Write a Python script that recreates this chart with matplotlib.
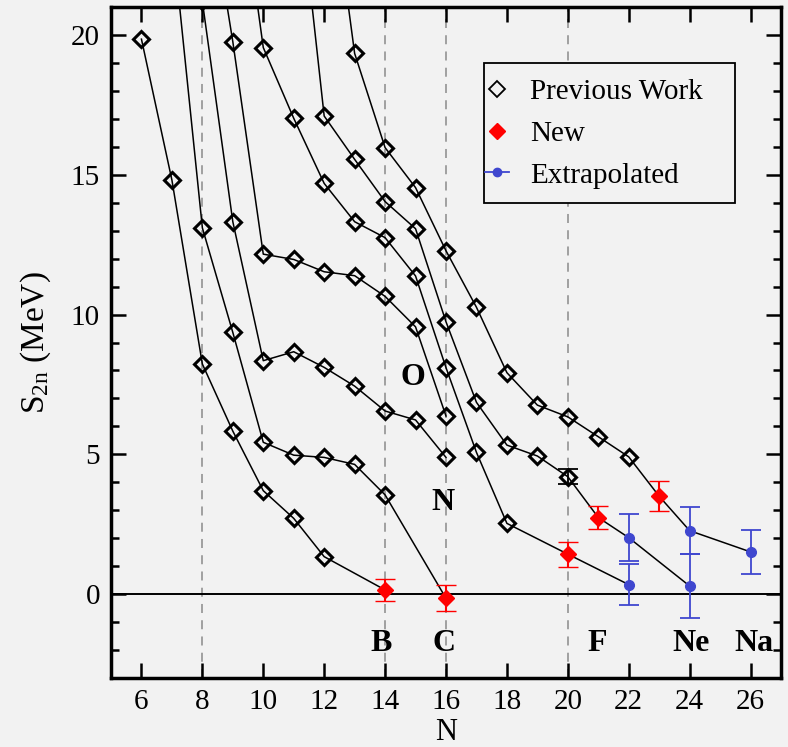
import matplotlib
matplotlib.use('Agg')
import matplotlib.pyplot as plt
from matplotlib.lines import Line2D
from matplotlib.patches import Rectangle
from matplotlib.ticker import MultipleLocator, FixedLocator

plt.rcParams['font.family'] = ['Liberation Serif', 'DejaVu Serif']
plt.rcParams['mathtext.fontset'] = 'custom'
plt.rcParams['mathtext.rm'] = 'Liberation Serif'
plt.rcParams['mathtext.it'] = 'Liberation Serif:italic'

# ---------------- data (N, S2n in MeV) ----------------
# type: 'p' previous work, 'n' new, 'e' extrapolated
B_N = [6, 7, 8, 9, 10, 11, 12, 14]
B_S = [19.85, 14.81, 8.23, 5.83, 3.70, 2.71, 1.34, 0.15]
B_type = ['p', 'p', 'p', 'p', 'p', 'p', 'p', 'n']
B_err = [0, 0, 0, 0, 0, 0, 0, 0.40]

C_N = [7, 8, 9, 10, 11, 12, 13, 14, 16]
C_S = [23.7, 13.10, 9.36, 5.43, 4.97, 4.89, 4.64, 3.55, -0.15]
C_type = ['p', 'p', 'p', 'p', 'p', 'p', 'p', 'p', 'n']
C_err = [0, 0, 0, 0, 0, 0, 0, 0, 0.47]

N_N = [8, 9, 10, 11, 12, 13, 14, 15, 16]
N_S = [21.2, 13.32, 8.35, 8.67, 8.11, 7.44, 6.55, 6.23, 4.89]
N_type = ['p', 'p', 'p', 'p', 'p', 'p', 'p', 'p', 'p']
N_err = [0, 0, 0, 0, 0, 0, 0, 0, 0]

O_N = [8, 9, 10, 11, 12, 13, 14, 15, 16]
O_S = [26.5, 19.76, 12.16, 11.97, 11.53, 11.39, 10.65, 9.56, 6.37]
O_type = ['p', 'p', 'p', 'p', 'p', 'p', 'p', 'p', 'p']
O_err = [0, 0, 0, 0, 0, 0, 0, 0, 0]

F_N = [9, 10, 11, 12, 13, 14, 15, 16, 17, 18, 20, 22]
F_S = [27.5, 19.55, 17.02, 14.69, 13.32, 12.75, 11.38, 8.10, 5.07, 2.53, 1.43, 0.34]
F_type = ['p', 'p', 'p', 'p', 'p', 'p', 'p', 'p', 'p', 'p', 'n', 'e']
F_err = [0, 0, 0, 0, 0, 0, 0, 0, 0, 0, 0.45, 0.72]

Ne_N = [11, 12, 13, 14, 15, 16, 17, 18, 19, 20, 21, 22, 24]
Ne_S = [27.0, 17.10, 15.55, 14.04, 13.07, 9.74, 6.86, 5.33, 4.94, 4.20, 2.74, 2.02, 0.29]
Ne_type = ['p', 'p', 'p', 'p', 'p', 'p', 'p', 'p', 'p', 'p', 'n', 'e', 'e']
Ne_err = [0, 0, 0, 0, 0, 0, 0, 0, 0, 0.27, 0.41, 0.83, 1.16]

Na_N = [12, 13, 14, 15, 16, 17, 18, 19, 20, 21, 22, 23, 24, 26]
Na_S = [27.5, 19.34, 15.97, 14.54, 12.28, 10.26, 7.92, 6.76, 6.34, 5.63, 4.91, 3.50, 2.27, 1.51]
Na_type = ['p', 'p', 'p', 'p', 'p', 'p', 'p', 'p', 'p', 'p', 'p', 'n', 'e', 'e']
Na_err = [0, 0, 0, 0, 0, 0, 0, 0, 0, 0, 0, 0.53, 0.83, 0.79]

chains = [(B_N, B_S, B_type, B_err), (C_N, C_S, C_type, C_err),
          (N_N, N_S, N_type, N_err), (O_N, O_S, O_type, O_err),
          (F_N, F_S, F_type, F_err), (Ne_N, Ne_S, Ne_type, Ne_err),
          (Na_N, Na_S, Na_type, Na_err)]

label_text = ['B', 'C', 'N', 'O', 'F', 'Ne', 'Na']
label_N = [13.88, 15.92, 15.91, 14.93, 20.97, 24.06, 26.1]
label_S = [-2.04, -2.04, 3.0, 7.48, -2.04, -2.04, -2.04]

vline_N = [8, 14, 16, 20]
x_ticks = [6, 8, 10, 12, 14, 16, 18, 20, 22, 24, 26]
y_ticks = [0, 5, 10, 15, 20]

BG = '#f2f2f2'
BLUE = '#3f47cf'
RED = '#ff0000'

fig = plt.figure(figsize=(7.88, 7.47), dpi=100, facecolor=BG)
ax = fig.add_axes([111/788, 1-678/747, 670/788, 671/747], facecolor=BG)

for vx in vline_N:
    ax.axvline(vx, color='#9a9a9a', lw=1.3, dashes=(5, 4), zorder=1)
ax.axhline(0, color='black', lw=1.4, zorder=1)

for Ns, Ss, Ts, Es in chains:
    ax.plot(Ns, Ss, color='black', lw=1.1, zorder=2)
    for n, s, t, e in zip(Ns, Ss, Ts, Es):
        if t == 'p':
            if e > 0:
                ax.errorbar([n], [s], yerr=[e], fmt='none', ecolor='black',
                            elinewidth=1.3, capsize=7, capthick=1.3, zorder=3)
            ax.plot([n], [s], ls='none', marker='D', ms=8.5, mfc='none',
                    mec='black', mew=2.2, zorder=4)
        elif t == 'n':
            ax.errorbar([n], [s], yerr=[e], fmt='D', color=RED, ms=8.5,
                        mec=RED, mew=1, elinewidth=1.5, capsize=7,
                        capthick=1.5, zorder=5)
        else:
            ax.errorbar([n], [s], yerr=[e], fmt='o', color=BLUE, ms=7,
                        elinewidth=1.3, capsize=7, capthick=1.3, zorder=5)

for t, n, s in zip(label_text, label_N, label_S):
    ax.text(n, s, t, ha='center', va='baseline', fontsize=23,
            fontweight='bold', zorder=6)

ax.set_xlim(5, 27)
ax.set_ylim(-3, 21)
ax.xaxis.set_major_locator(FixedLocator(x_ticks))
ax.yaxis.set_major_locator(FixedLocator(y_ticks))
ax.yaxis.set_minor_locator(MultipleLocator(1))
ax.tick_params(which='both', direction='in', top=True, right=True,
               width=1.8, labelsize=21)
ax.tick_params(which='major', length=11, pad=8)
ax.tick_params(which='minor', length=6)
for sp in ax.spines.values():
    sp.set_linewidth(2.5)

ax.set_xlabel('N', fontsize=22)
ax.set_ylabel(r'S$_{\mathrm{2n}}$ (MeV)', fontsize=24)
ax.xaxis.set_label_coords(0.5, -0.0917)
ax.xaxis.label.set_va('baseline')
ax.yaxis.set_label_coords(-0.087, 0.5)

# legend frame (drawn separately) and contents
frame = Rectangle((0.5567, 0.7079), 0.3746, 0.2086, transform=ax.transAxes,
                  facecolor=BG, edgecolor='black', lw=1.3, zorder=9)
ax.add_patch(frame)

handles = [
    Line2D([], [], ls='none', marker='D', ms=8, mfc='none', mec='black', mew=1.3),
    Line2D([], [], ls='none', marker='D', ms=8, mfc=RED, mec=RED, mew=1),
    Line2D([], [], color=BLUE, lw=1.3, marker='o', ms=6),
]
leg = ax.legend(handles, ['Previous Work', 'New', 'Extrapolated'],
                loc='upper left', bbox_to_anchor=(0.5588, 0.8927),
                fontsize=21, frameon=False, borderpad=0,
                handlelength=0.8, handletextpad=0.72, labelspacing=0.52,
                borderaxespad=0)
leg.set_zorder(10)

fig.savefig('out.png', dpi=100, facecolor=BG)
